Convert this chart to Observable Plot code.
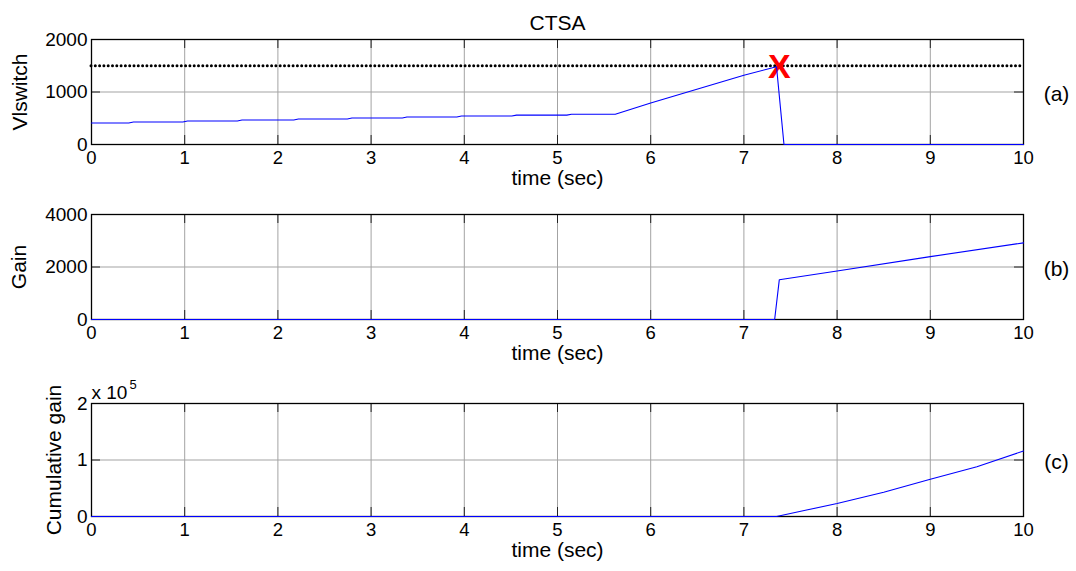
<!DOCTYPE html>
<html>
<head>
<meta charset="utf-8">
<script src="https://cdn.jsdelivr.net/npm/d3@7"></script>
<script src="https://cdn.jsdelivr.net/npm/@observablehq/plot@0.6"></script>
<style>
  html, body { margin: 0; padding: 0; background: #fff; }
  #wrap { position: relative; width: 1076px; height: 571px; overflow: hidden; font-family: "Liberation Sans", Arial, sans-serif; }
  #wrap svg { position: absolute; left: 0; overflow: visible; }
</style>
</head>
<body>
<div id="wrap"></div>
<script>
// ---------- data ----------
const title = "CTSA";
const xLabel = "time (sec)";
const xTicks = [0, 1, 2, 3, 4, 5, 6, 7, 8, 9, 10];

// (a) Vlswitch
const vlTime  = [0, 0.40, 0.45, 0.98, 1.03, 1.565, 1.615, 2.17, 2.22, 2.745, 2.795, 3.335, 3.385, 3.92, 3.97, 4.51, 4.56, 5.10, 5.15, 5.62, 6.0, 7.0, 7.35, 7.43, 10];
const vlValue = [410, 410, 428, 428, 447, 447, 466, 466, 485, 485, 504, 504, 523, 523, 542, 542, 560, 560, 577, 577, 790, 1320, 1480, 0, 0];
const vlThreshold = 1500;
const switchMark = {t: 7.38, v: 1480, label: "X"};
const yTicksA = [0, 1000, 2000];

// (b) Gain
const gainTime  = [0, 7.33, 7.38, 8, 9, 10];
const gainValue = [0, 0, 1517, 1850, 2395, 2920];
const yTicksB = [0, 2000, 4000];

// (c) Cumulative gain
const cumTime  = [0, 7.35, 7.66, 8, 8.5, 9, 9.5, 10];
const cumValue = [0, 0, 11000, 23000, 43000, 66000, 88000, 116000];
const cumScale = 1e5;
const yTicksC = [0, 1, 2];

const panelTags = ["(a)", "(b)", "(c)"];
const yLabels = ["Vlswitch", "Gain", "Cumulative gain"];

// ---------- layout ----------
const W = 1076, ML = 91, MR = 53;
const FONT = "Liberation Sans, Arial, sans-serif";
const GRID = "#a3a3a3";
const LINE = "#0000ff";

function panel({top, height, mt, mb, data, yDomain, yTicks, tag, yLabel, yLabelDx, extra = []}) {
  const ph = height - mt - mb;
  const pw = W - ML - MR;
  const tickLen = 9;
  const xSpan = xTicks[xTicks.length - 1] - xTicks[0];
  const ySpan = yDomain[1] - yDomain[0];
  const dx = xSpan * tickLen / pw;
  const dy = ySpan * tickLen / ph;
  const x0 = xTicks[0], x1 = xTicks[xTicks.length - 1];
  const svg = Plot.plot({
    width: W, height,
    marginLeft: ML, marginRight: MR, marginTop: mt, marginBottom: mb,
    style: {fontFamily: FONT, color: "#000", background: "transparent"},
    x: {domain: [x0, x1], label: null},
    y: {domain: yDomain, label: null},
    marks: [
      // grid
      Plot.ruleX(xTicks, {stroke: GRID, strokeWidth: 1}),
      Plot.ruleY(yTicks, {stroke: GRID, strokeWidth: 1}),
      // inner ticks
      Plot.ruleX(xTicks, {y1: yDomain[0], y2: yDomain[0] + dy, stroke: "#222"}),
      Plot.ruleX(xTicks, {y1: yDomain[1], y2: yDomain[1] - dy, stroke: "#222"}),
      Plot.ruleY(yTicks, {x1: x0, x2: x0 + dx, stroke: "#222"}),
      Plot.ruleY(yTicks, {x1: x1, x2: x1 - dx, stroke: "#222"}),
      Plot.frame({stroke: "#000", strokeWidth: 1.3}),
      // axes labels
      Plot.axisX({ticks: xTicks, tickSize: 0, tickPadding: 6, fontSize: 18.5, label: null, tickFormat: d => String(d)}),
      Plot.axisY({ticks: yTicks, tickSize: 0, tickPadding: 4, fontSize: 19, label: null, tickFormat: d => String(d)}),
      Plot.text([xLabel], {frameAnchor: "bottom", textAnchor: "middle", dy: 40, fontSize: 21, fill: "#000"}),
      Plot.text([yLabel], {frameAnchor: "left", textAnchor: "middle", dx: yLabelDx, rotate: -90, fontSize: 21, fill: "#000"}),
      Plot.text([tag], {frameAnchor: "right", textAnchor: "middle", dx: 33, dy: 2, fontSize: 21, fill: "#000"}),
      ...extra,
      Plot.line(data, {x: "t", y: "v", stroke: LINE, strokeWidth: 1.1})
    ]
  });
  svg.style.top = top + "px";
  return svg;
}

const dataA = vlTime.map((t, i) => ({t, v: vlValue[i]}));
const dataB = gainTime.map((t, i) => ({t, v: gainValue[i]}));
const dataC = cumTime.map((t, i) => ({t, v: cumValue[i] / cumScale}));

const wrap = document.getElementById("wrap");

wrap.appendChild(panel({
  top: 0, height: 190, mt: 39, mb: 46, data: dataA, yDomain: [0, 2000], yTicks: yTicksA,
  tag: panelTags[0], yLabel: yLabels[0], yLabelDx: -71,
  extra: [
    Plot.text([title], {frameAnchor: "top", textAnchor: "middle", dy: -24, fontSize: 21, fill: "#000"}),
    Plot.ruleY([vlThreshold], {stroke: "#000", strokeWidth: 3, strokeDasharray: "0,4.3", strokeLinecap: "round"}),
    Plot.text([switchMark], {x: "t", y: "v", text: "label", fill: "#ff0000", fontSize: 34, fontWeight: "bold"})
  ]
}));

wrap.appendChild(panel({
  top: 190, height: 185, mt: 24, mb: 56, data: dataB, yDomain: [0, 4000], yTicks: yTicksB,
  tag: panelTags[1], yLabel: yLabels[1], yLabelDx: -72
}));

wrap.appendChild(panel({
  top: 375, height: 196, mt: 28, mb: 55, data: dataC, yDomain: [0, 2], yTicks: yTicksC,
  tag: panelTags[2], yLabel: yLabels[2], yLabelDx: -37,
  extra: [
    Plot.text(["x 10"], {frameAnchor: "top-left", textAnchor: "start", lineAnchor: "bottom", dx: 0, dy: -5, fontSize: 19, fill: "#000"}),
    Plot.text(["5"], {frameAnchor: "top-left", textAnchor: "start", lineAnchor: "bottom", dx: 38, dy: -15, fontSize: 13, fill: "#000"})
  ]
}));
</script>
</body>
</html>
